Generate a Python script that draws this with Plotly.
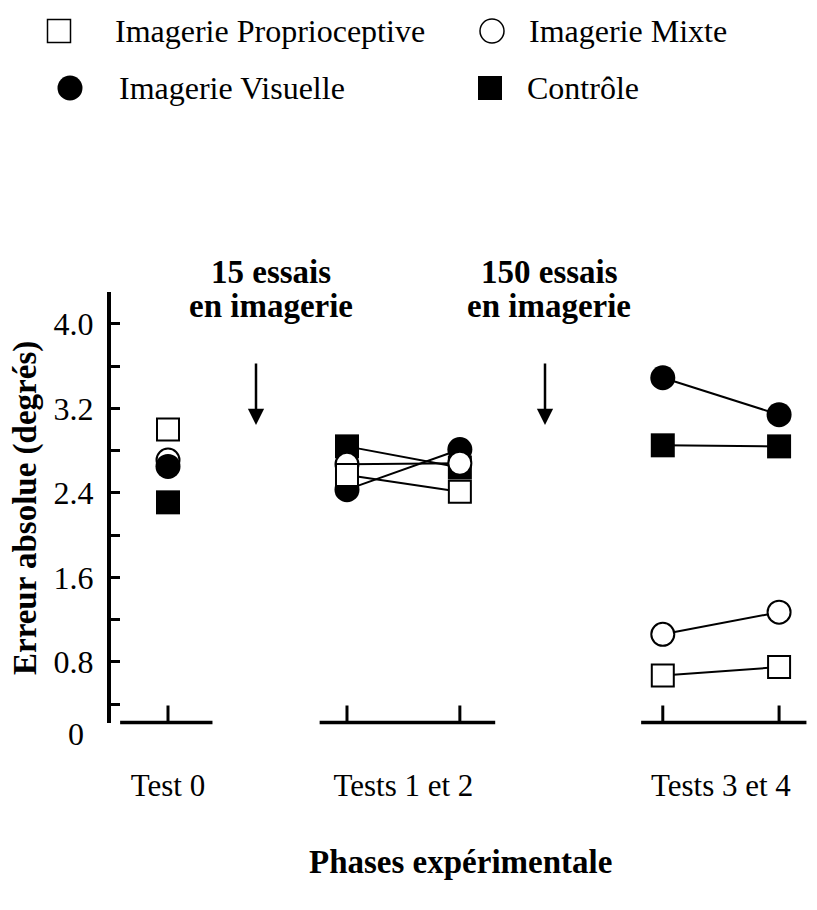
import plotly.graph_objects as go

# ---------------- data ----------------
tests = ["Test 0", "Test 1", "Test 2", "Test 3", "Test 4"]
phase_labels = ["Test 0", "Tests 1 et 2", "Tests 3 et 4"]
phase_members = [[0], [1, 2], [3, 4]]

proprioceptive = [3.00, 2.57, 2.41, 0.67, 0.75]
visuelle = [2.65, 2.43, 2.81, 3.49, 3.14]
mixte = [2.71, 2.67, 2.68, 1.06, 1.27]
controle = [2.31, 2.84, 2.64, 2.85, 2.84]

y_tick_values = [0.4, 0.8, 1.2, 1.6, 2.0, 2.4, 2.8, 3.2, 3.6, 4.0]
y_tick_labels = ["", "0.8", "", "1.6", "", "2.4", "", "3.2", "", "4.0"]

# ---------------- layout constants ----------------
W, H = 817, 910
def px(xp):
    return xp / W
def py(yp):
    return 1 - yp / H

test_x = [0, 1.57, 2.56, 4.34, 5.36]          # horizontal position of each test
segments = [(-0.42, 0.39), (1.33, 2.87), (4.15, 5.6)]  # broken x-axis pieces
X_RANGE = [-0.5, 5.64]
Y_RANGE = [0.225, 4.302]
PLOT_L, PLOT_R, PLOT_T, PLOT_B = 111, 811, 292, 722.5

SERIF = "Liberation Serif, Times New Roman, serif"

styles = {
    "Imagerie Proprioceptive": dict(symbol="square", size=22, color="white",
                                    line=dict(color="black", width=2)),
    "Imagerie Mixte": dict(symbol="circle", size=23, color="white",
                           line=dict(color="black", width=2)),
    "Imagerie Visuelle": dict(symbol="circle", size=25, color="black",
                              line=dict(width=0)),
    "Contrôle": dict(symbol="square", size=24, color="black",
                     line=dict(width=0)),
}
values = {
    "Imagerie Proprioceptive": proprioceptive,
    "Imagerie Mixte": mixte,
    "Imagerie Visuelle": visuelle,
    "Contrôle": controle,
}

fig = go.Figure()

# connecting lines (drawn below markers)
for name, vals in values.items():
    xs, ys = [], []
    for members in phase_members:
        if len(members) > 1:
            for i in members:
                xs.append(test_x[i])
                ys.append(vals[i])
            xs.append(None)
            ys.append(None)
    fig.add_trace(go.Scatter(x=xs, y=ys, mode="lines",
                             line=dict(color="black", width=2),
                             hoverinfo="skip", showlegend=False))

# markers, in drawing order
draw_groups = [
    ([0], ["Contrôle", "Imagerie Mixte", "Imagerie Visuelle", "Imagerie Proprioceptive"]),
    ([1, 2, 3, 4], ["Contrôle", "Imagerie Visuelle", "Imagerie Mixte", "Imagerie Proprioceptive"]),
]
for idx, order in draw_groups:
    for name in order:
        fig.add_trace(go.Scatter(
            x=[test_x[i] for i in idx],
            y=[values[name][i] for i in idx],
            mode="markers", marker=styles[name], name=name,
            cliponaxis=False, showlegend=False,
            text=[tests[i] for i in idx]))

# custom legend on its own axes (pixel coordinates)
legend_items = [
    ("Imagerie Proprioceptive", 59, 31, 113),
    ("Imagerie Mixte", 492, 31, 527),
    ("Imagerie Visuelle", 70, 88, 117),
    ("Contrôle", 490, 88, 525),
]
for name, mx, my, tx in legend_items:
    st = dict(styles[name])
    if st["line"].get("width", 0) > 0:
        st = dict(st, line=dict(color="black", width=1.5))
        st["size"] = st["size"] + 1
    fig.add_trace(go.Scatter(x=[mx], y=[my], mode="markers", marker=st,
                             xaxis="x2", yaxis="y2", showlegend=False,
                             hoverinfo="skip", cliponaxis=False))

annotations = []
for name, mx, my, tx in legend_items:
    annotations.append(dict(text=name, x=px(tx), y=py(my), xref="paper", yref="paper",
                            xanchor="left", yanchor="middle", showarrow=False,
                            font=dict(family=SERIF, size=32, color="black")))

# "0" label at the origin
annotations.append(dict(text="0", x=px(76), y=py(734), xref="paper", yref="paper",
                        xanchor="center", yanchor="middle", showarrow=False,
                        font=dict(family=SERIF, size=32, color="black")))

# y-axis title
annotations.append(dict(text="Erreur absolue (degrés)", x=px(25), y=py(508), xref="paper",
                        yref="paper", textangle=-90, xanchor="center", yanchor="middle",
                        showarrow=False,
                        font=dict(family=SERIF, size=33, color="black", weight="bold")))
# x-axis title
annotations.append(dict(text="Phases expérimentale", x=px(460), y=py(862), xref="paper",
                        yref="paper", xanchor="center", yanchor="middle", showarrow=False,
                        font=dict(family=SERIF, size=33, color="black", weight="bold")))

# imagery blocks
blocks = [("15 essais", "en imagerie", 271, 256), ("150 essais", "en imagerie", 549, 545)]
for l1, l2, cx, ax_x in blocks:
    annotations.append(dict(text=l1, x=px(cx), y=py(271.5), xref="paper", yref="paper",
                            xanchor="center", yanchor="middle", showarrow=False,
                            font=dict(family=SERIF, size=33, color="black", weight="bold")))
    annotations.append(dict(text=l2, x=px(cx), y=py(306), xref="paper", yref="paper",
                            xanchor="center", yanchor="middle", showarrow=False,
                            font=dict(family=SERIF, size=33, color="black", weight="bold")))
    annotations.append(dict(text="", x=px(ax_x), y=py(425), xref="paper", yref="paper",
                            showarrow=True, ax=0, ay=-63, arrowhead=2, arrowsize=1.3,
                            arrowwidth=2.5, arrowcolor="black", standoff=0))

# broken x-axis segments and their ticks
shapes = []
for x0, x1 in segments:
    shapes.append(dict(type="line", xref="x", yref="paper", x0=x0, x1=x1,
                       y0=py(PLOT_B), y1=py(PLOT_B), line=dict(color="black", width=3.5)))
for xv in test_x:
    shapes.append(dict(type="line", xref="x", yref="paper", x0=xv, x1=xv,
                       y0=py(PLOT_B), y1=py(PLOT_B - 17), line=dict(color="black", width=3)))

phase_centers = [sum(test_x[i] for i in m) / len(m) for m in phase_members]

fig.update_layout(
    width=W, height=H,
    margin=dict(l=0, r=0, t=0, b=0),
    paper_bgcolor="white", plot_bgcolor="white",
    showlegend=False,
    font=dict(family=SERIF, color="black"),
    xaxis=dict(domain=[px(PLOT_L), px(PLOT_R)], range=X_RANGE, showgrid=False,
               zeroline=False, showline=False, ticks="",
               tickvals=phase_centers, ticktext=phase_labels,
               tickfont=dict(family=SERIF, size=31, color="black"),
               ticklabelstandoff=41),
    yaxis=dict(domain=[py(PLOT_B), py(PLOT_T)], range=Y_RANGE, showgrid=False,
               zeroline=False, showline=True, linecolor="black", linewidth=4,
               ticks="inside", ticklen=9, tickwidth=3, tickcolor="black",
               tickvals=y_tick_values, ticktext=y_tick_labels,
               tickfont=dict(family=SERIF, size=32, color="black"),
               ticklabelstandoff=7),
    xaxis2=dict(domain=[0, 1], range=[0, W], visible=False, anchor="y2"),
    yaxis2=dict(domain=[py(110), 1], range=[110, 0], visible=False, anchor="x2"),
    annotations=annotations,
    shapes=shapes,
)

fig.write_html("out.html",
               config={"displayModeBar": False},
               post_script="document.body.style.margin='0';document.body.style.overflow='hidden';")
